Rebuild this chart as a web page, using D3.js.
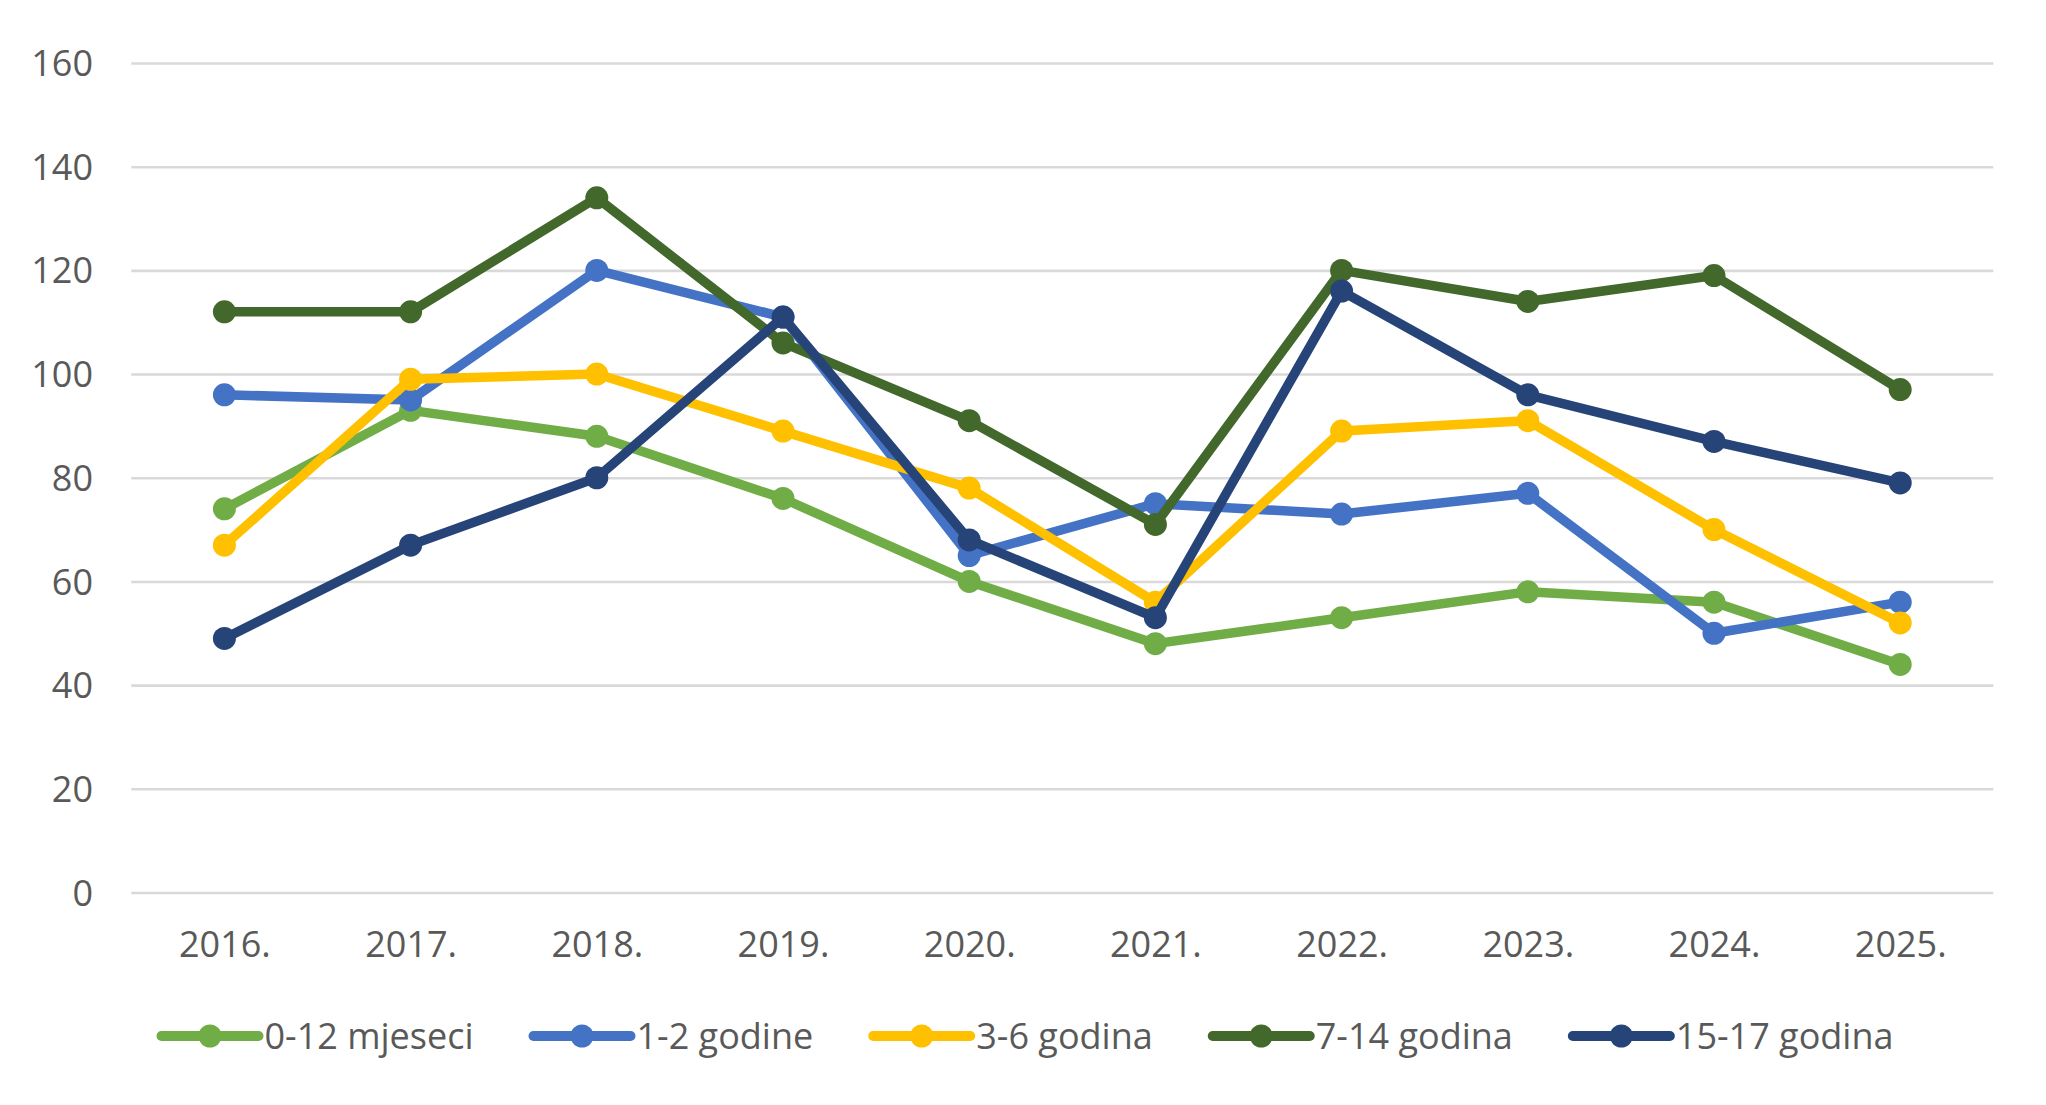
<!DOCTYPE html>
<html>
<head>
<meta charset="utf-8">
<script src="https://cdn.jsdelivr.net/npm/d3@7"></script>
<style>
  body { margin: 0; background: #fff; }
  #chart { width: 2046px; height: 1105px; }
  text { font-family: "Open Sans", "Noto Sans", sans-serif; fill: #595959; }
</style>
</head>
<body>
<div id="chart"></div>
<script>
// DATA
const years = ["2016.", "2017.", "2018.", "2019.", "2020.", "2021.", "2022.", "2023.", "2024.", "2025."];
const seriesNames = ["0-12 mjeseci", "1-2 godine", "3-6 godina", "7-14 godina", "15-17 godina"];
const months0to12 = [74, 93, 88, 76, 60, 48, 53, 58, 56, 44];
const years1to2 = [96, 95, 120, 111, 65, 75, 73, 77, 50, 56];
const years3to6 = [67, 99, 100, 89, 78, 56, 89, 91, 70, 52];
const years7to14 = [112, 112, 134, 106, 91, 71, 120, 114, 119, 97];
const years15to17 = [49, 67, 80, 111, 68, 53, 116, 96, 87, 79];
const yTicks = [0, 20, 40, 60, 80, 100, 120, 140, 160];
const colors = ["#70AD47", "#4472C4", "#FFC000", "#43682B", "#264478"];

const series = [months0to12, years1to2, years3to6, years7to14, years15to17]
    .map((vals, i) => ({ name: seriesNames[i], values: vals, color: colors[i] }));

const w = 2046, h = 1105;
const margin = { top: 63, right: 52.7, bottom: 212.5, left: 131.3 };

const svg = d3.select("#chart").append("svg")
    .attr("width", w)
    .attr("height", h);

// SCALES
const x = d3.scalePoint()
    .domain(years)
    .range([margin.left, w - margin.right])
    .padding(0.5);

const y = d3.scaleLinear()
    .domain([0, 160])
    .range([h - margin.bottom, margin.top]);

// GRIDLINES
const grid = svg.append("g")
    .attr("transform", "translate(" + margin.left + ",0)")
    .call(d3.axisLeft(y).tickValues(yTicks).tickSize(-(w - margin.left - margin.right)).tickFormat(""));
grid.select(".domain").remove();
grid.selectAll("line").attr("stroke", "#d9d9d9").attr("stroke-width", 2.6);

// Y AXIS LABELS
const yAxis = svg.append("g")
    .attr("transform", "translate(" + 93 + ",0)")
    .call(d3.axisLeft(y).tickValues(yTicks).tickSize(0).tickPadding(0));
yAxis.select(".domain").remove();
yAxis.selectAll("text")
    .style("font-size", "36px")
    .attr("fill", "#595959")
    .attr("dy", "0.35em");

// X AXIS LABELS
const xAxis = svg.append("g")
    .attr("transform", "translate(0," + (h - margin.bottom) + ")")
    .call(d3.axisBottom(x).tickSize(0).tickPadding(0));
xAxis.select(".domain").remove();
xAxis.selectAll("text")
    .style("font-size", "36px")
    .attr("fill", "#595959")
    .attr("dy", "0")
    .attr("y", 64);

// LINES + MARKERS
const line = d3.line()
    .x((d, i) => x(years[i]))
    .y((d) => y(d));

series.forEach((s) => {
    const g = svg.append("g").attr("class", "series");
    g.append("path")
        .attr("d", line(s.values))
        .attr("fill", "none")
        .attr("stroke", s.color)
        .attr("stroke-width", 9.5)
        .attr("stroke-linejoin", "round")
        .attr("stroke-linecap", "round");
    g.selectAll("circle")
        .data(s.values)
        .enter().append("circle")
        .attr("cx", (d, i) => x(years[i]))
        .attr("cy", (d) => y(d))
        .attr("r", 11.5)
        .attr("fill", s.color);
});

// LEGEND
const legend = svg.append("g").attr("class", "legend");
const legendY = 1036;
let cursor = 0;
series.forEach((s) => {
    const item = legend.append("g").attr("transform", "translate(" + cursor + "," + legendY + ")");
    item.append("line")
        .attr("x1", 0).attr("x2", 97)
        .attr("stroke", s.color)
        .attr("stroke-width", 10)
        .attr("stroke-linecap", "round");
    item.append("circle")
        .attr("cx", 48.5).attr("r", 11.5)
        .attr("fill", s.color);
    const t = item.append("text")
        .attr("x", 103)
        .attr("dy", "0.35em")
        .style("font-size", "36px")
        .text(s.name);
    cursor += 103 + t.node().getComputedTextLength() + 60;
});
const legendWidth = cursor - 60;
legend.attr("transform", "translate(" + (1027.5 - legendWidth / 2) + ",0)");
</script>
</body>
</html>
